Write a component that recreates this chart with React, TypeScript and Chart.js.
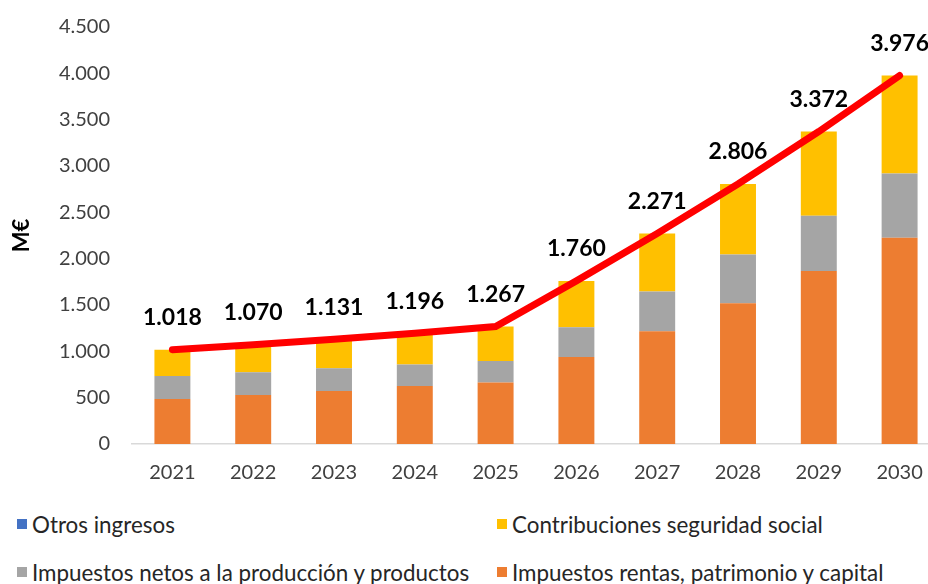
import React, { useEffect, useRef } from "react";
import { Chart, registerables } from "chart.js";

Chart.register(...registerables);

const years = ["2021", "2022", "2023", "2024", "2025", "2026", "2027", "2028", "2029", "2030"];
const impuestosRentas = [485, 528, 571, 625, 664, 940, 1217, 1519, 1866, 2226];
const impuestosNetos = [250, 247, 247, 233, 233, 320, 428, 527, 597, 693];
const contribuciones = [283, 295, 313, 338, 370, 500, 626, 760, 909, 1057];
const otrosIngresos = [0, 0, 0, 0, 0, 0, 0, 0, 0, 0];
const totales = [1018, 1070, 1131, 1196, 1267, 1760, 2271, 2806, 3372, 3976];

const COLORS = {
  otros: "#4472C4",
  contrib: "#FFC000",
  netos: "#A5A5A5",
  rentas: "#ED7D31",
  line: "#FF0000",
};

const FONT = "Lato, 'Open Sans', sans-serif";

const fmt = (v: number) => {
  const s = Math.round(v).toString();
  return s.replace(/\B(?=(\d{3})+(?!\d))/g, ".");
};

const totalLabels = {
  id: "totalLabels",
  afterDatasetsDraw(chart: any) {
    const idx = chart.data.datasets.findIndex((d: any) => d.type === "line");
    if (idx < 0) return;
    const meta = chart.getDatasetMeta(idx);
    const ctx = chart.ctx;
    ctx.save();
    ctx.font = `bold 23px ${FONT}`;
    ctx.fillStyle = "#000";
    ctx.textAlign = "center";
    ctx.textBaseline = "middle";
    meta.data.forEach((pt: any, i: number) => {
      ctx.fillText(fmt(totales[i]), pt.x, pt.y - 32);
    });
    ctx.restore();
  },
};

const legendItems = [
  { label: "Otros ingresos", color: COLORS.otros, left: 17, top: 524 },
  { label: "Contribuciones seguridad social", color: COLORS.contrib, left: 497, top: 524 },
  { label: "Impuestos netos a la producción y productos", color: COLORS.netos, left: 17, top: 572 },
  { label: "Impuestos rentas, patrimonio y capital", color: COLORS.rentas, left: 497, top: 572 },
];

export default function App() {
  const ref = useRef<HTMLCanvasElement>(null);

  useEffect(() => {
    if (!ref.current) return;
    const chart = new Chart(ref.current, {
      type: "bar",
      data: {
        labels: years,
        datasets: [
          {
            type: "line",
            label: "Total",
            data: totales,
            borderColor: COLORS.line,
            backgroundColor: COLORS.line,
            borderWidth: 7,
            pointRadius: 0,
            borderCapStyle: "round",
            stack: "total",
            order: 0,
          } as any,
          {
            label: "Impuestos rentas, patrimonio y capital",
            data: impuestosRentas,
            backgroundColor: COLORS.rentas,
            stack: "s",
            order: 1,
          },
          {
            label: "Impuestos netos a la producción y productos",
            data: impuestosNetos,
            backgroundColor: COLORS.netos,
            stack: "s",
            order: 1,
          },
          {
            label: "Contribuciones seguridad social",
            data: contribuciones,
            backgroundColor: COLORS.contrib,
            stack: "s",
            order: 1,
          },
          {
            label: "Otros ingresos",
            data: otrosIngresos,
            backgroundColor: COLORS.otros,
            stack: "s",
            order: 1,
          },
        ],
      },
      options: {
        responsive: false,
        animation: false,
        devicePixelRatio: 1,
        layout: { autoPadding: false, padding: { top: 27, right: 5, bottom: 0, left: 0 } },
        datasets: {
          bar: { categoryPercentage: 1, barPercentage: 0.445 },
        },
        plugins: {
          legend: { display: false },
          tooltip: { enabled: false },
        },
        scales: {
          x: {
            stacked: true,
            grid: { display: false, drawTicks: true, tickLength: 12 },
            border: { display: true, color: "#D9D9D9", width: 1.5 },
            ticks: {
              color: "#404040",
              font: { family: FONT, size: 20 },
              padding: 5,
            },
            afterFit: (s: any) => {
              s.height = 46;
            },
          },
          y: {
            stacked: true,
            min: 0,
            max: 4500,
            grid: { display: false, drawTicks: true, tickLength: 17 },
            border: { display: false },
            ticks: {
              stepSize: 500,
              color: "#404040",
              font: { family: FONT, size: 20 },
              padding: 5,
              callback: (v: any) => fmt(Number(v)),
            },
            title: {
              display: true,
              text: "M€",
              color: "#000",
              font: { family: FONT, size: 22, weight: "bold" },
              padding: { top: 9, bottom: 0 },
            },
            afterFit: (s: any) => {
              s.width = 132;
            },
          },
        },
      },
      plugins: [totalLabels],
    });
    return () => chart.destroy();
  }, []);

  return (
    <div
      style={{
        position: "fixed",
        left: 0,
        top: 0,
        width: 928,
        height: 584,
        overflow: "hidden",
        background: "#fff",
      }}
    >
      <canvas
        ref={ref}
        width={945}
        height={490}
        style={{ position: "absolute", left: 0, top: 0, width: 945, height: 490 }}
      />
      {legendItems.map((it) => (
        <div
          key={it.label}
          style={{
            position: "absolute",
            left: it.left,
            top: it.top - 15,
            height: 30,
            display: "flex",
            alignItems: "center",
            fontFamily: FONT,
            fontSize: 22.4,
            color: "#262626",
            whiteSpace: "nowrap",
          }}
        >
          <span
            style={{
              display: "inline-block",
              width: 10,
              height: 10,
              background: it.color,
              marginRight: 5,
            }}
          />
          <span>{it.label}</span>
        </div>
      ))}
    </div>
  );
}
